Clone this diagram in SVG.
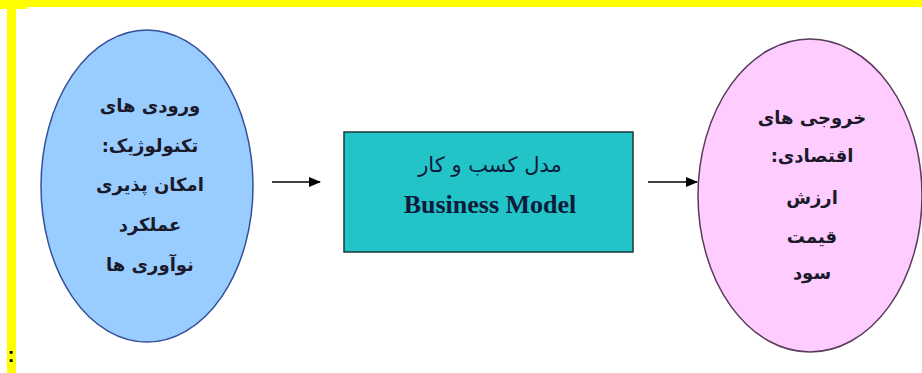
<svg xmlns="http://www.w3.org/2000/svg" width="922" height="373" viewBox="0 0 922 373">
<style>
.fa{font-family:"DejaVu Sans","Noto Sans",sans-serif;font-size:18px;font-weight:bold;fill:#1a1a2a;text-anchor:middle;direction:rtl}
.en{font-family:"Liberation Serif","Times New Roman",serif;font-size:26px;font-weight:bold;fill:#0d1a3a;text-anchor:middle}
.arrow{stroke:#000;stroke-width:1.6;fill:none}
</style>
<defs>
<marker id="ah" markerWidth="12" markerHeight="10" refX="11" refY="5" orient="auto" markerUnits="userSpaceOnUse">
<path d="M0,0 L12,5 L0,10 Z" fill="#000"/>
</marker>
</defs>
<rect x="0" y="0" width="922" height="373" fill="#fff"/>
<g id="frame">
<rect x="0" y="0" width="922" height="7" fill="#ffff00"/>
<rect x="0" y="0" width="27" height="9" fill="#ffff00"/>
<rect x="7" y="0" width="9" height="373" fill="#ffff00"/>
<text x="11" y="362" font-family="Liberation Sans,sans-serif" font-size="20" font-weight="bold" text-anchor="middle" fill="#000">:</text>
</g>
<g id="inputs">
<ellipse cx="147" cy="186" rx="106" ry="156" fill="#99ccff" stroke="#34509a" stroke-width="1.5"/>
<text class="fa" x="150" y="112">ورودی های</text>
<text class="fa" x="150" y="152">تکنولوژیک:</text>
<text class="fa" x="150" y="191">امکان پذیری</text>
<text class="fa" x="150" y="231">عملکرد</text>
<text class="fa" x="150" y="271">نوآوری ها</text>
</g>
<g id="model">
<rect x="344" y="132" width="289" height="120" fill="#22c4c8" stroke="#1a3a3a" stroke-width="1.5"/>
<text class="fa" x="490" y="172" style="font-size:21px;font-weight:normal;fill:#0d1a3a">مدل کسب و کار</text>
<text class="en" x="490" y="213">Business Model</text>
</g>
<g id="outputs">
<ellipse cx="810" cy="195.5" rx="112" ry="156.5" fill="#ffccff" stroke="#5a3a5a" stroke-width="1.5"/>
<text class="fa" x="812" y="124">خروجی های</text>
<text class="fa" x="812" y="162">اقتصادی:</text>
<text class="fa" x="812" y="204">ارزش</text>
<text class="fa" x="812" y="243">قیمت</text>
<text class="fa" x="812" y="279">سود</text>
</g>
<g id="connectors">
<line class="arrow" x1="272" y1="182" x2="320" y2="182" marker-end="url(#ah)"/>
<line class="arrow" x1="648" y1="182" x2="697" y2="182" marker-end="url(#ah)"/>
</g>
</svg>
